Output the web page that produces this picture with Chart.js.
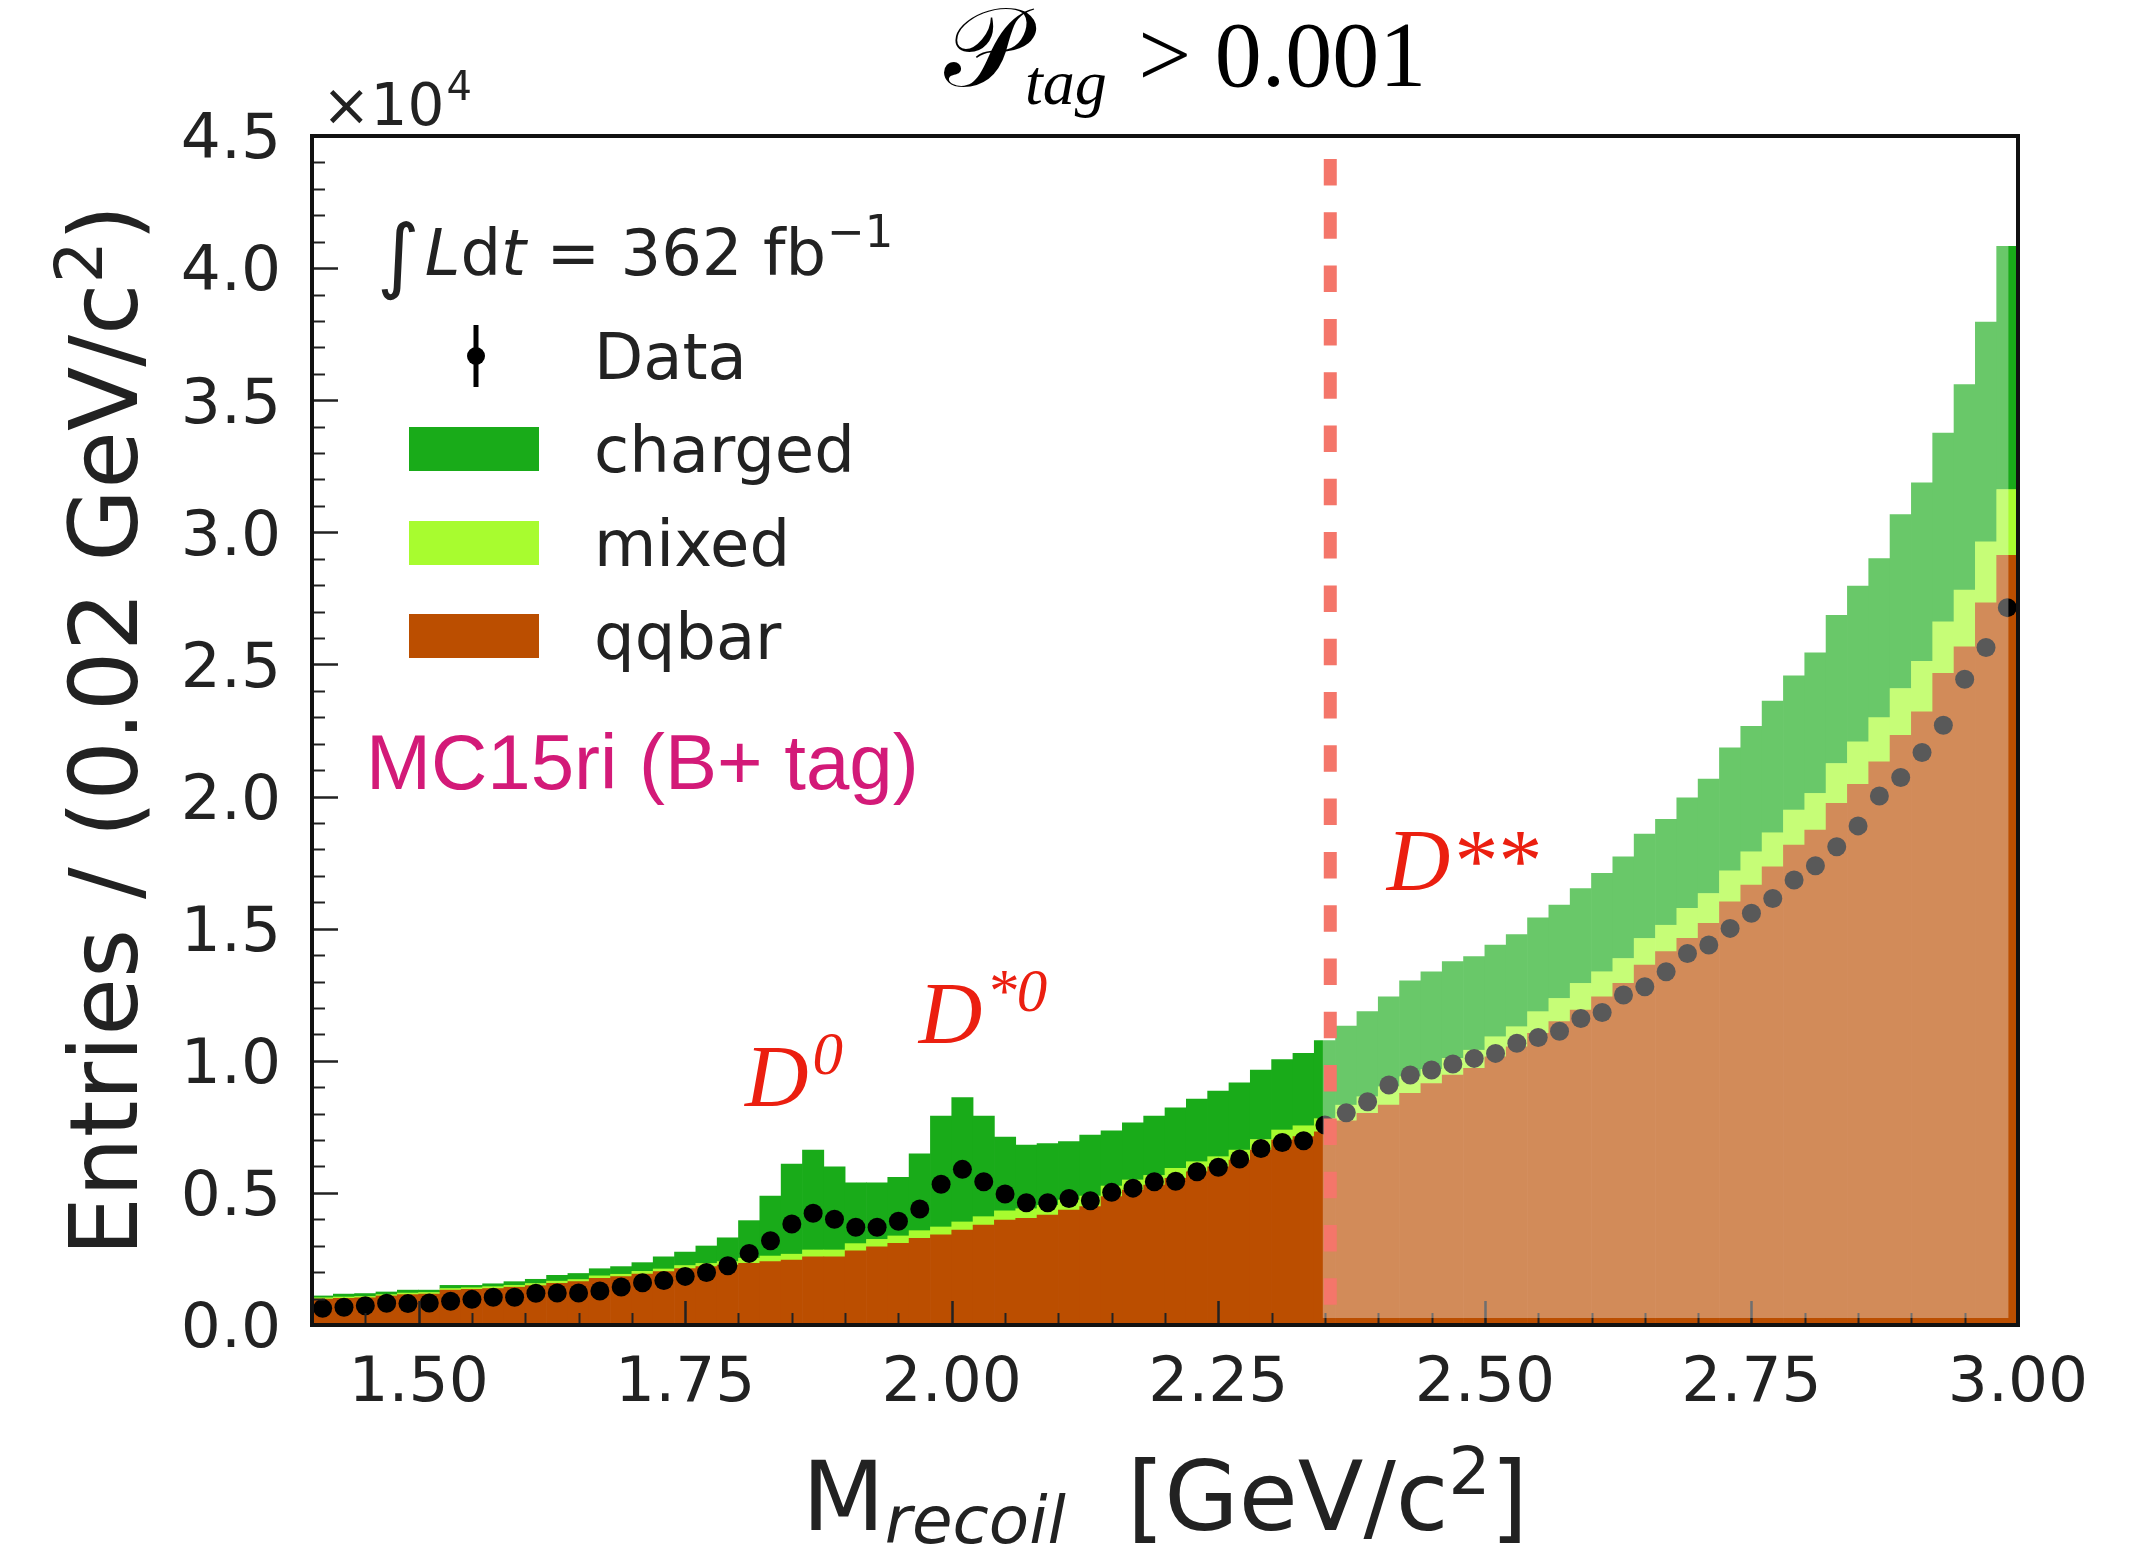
<!DOCTYPE html>
<html lang="en">
<head>
<meta charset="UTF-8">
<title>M_recoil, B+ tag</title>
<script src="https://cdn.jsdelivr.net/npm/chart.js@4.4.1/dist/chart.umd.min.js"></script>
<style>
    html, body { margin: 0; padding: 0; background: #fff; }
    canvas { display: block; }
</style>
</head>
<body>
<canvas id="recoil" width="2152" height="1546"></canvas>
<script>
    // 0.02 GeV/c^2 bins from 1.40 to 3.00, entries in units of 10^4
    var binLow = 1.40;
    var binWidth = 0.02;

    var qqbar = [
        0.098, 0.101, 0.103, 0.110, 0.115, 0.117, 0.132, 0.135, 0.138, 0.143, 0.149, 0.158,
        0.164, 0.177, 0.183, 0.193, 0.202, 0.214, 0.221, 0.227, 0.233, 0.240, 0.246, 0.258,
        0.258, 0.281, 0.296, 0.309, 0.328, 0.341, 0.359, 0.378, 0.397, 0.404, 0.416, 0.435,
        0.448, 0.486, 0.511, 0.530, 0.555, 0.580, 0.599, 0.624, 0.662, 0.700, 0.713, 0.731,
        0.773, 0.801, 0.832, 0.877, 0.914, 0.946, 0.971, 1.015, 1.053, 1.104, 1.148, 1.192,
        1.242, 1.293, 1.362, 1.413, 1.463, 1.520, 1.602, 1.665, 1.734, 1.816, 1.873, 1.974,
        2.046, 2.131, 2.232, 2.321, 2.466, 2.567, 2.733, 2.913
    ];
    var mixed = [
        0.005, 0.005, 0.005, 0.005, 0.006, 0.006, 0.006, 0.006, 0.007, 0.007, 0.008, 0.008,
        0.008, 0.009, 0.009, 0.010, 0.010, 0.011, 0.012, 0.013, 0.020, 0.021, 0.022, 0.026,
        0.026, 0.027, 0.028, 0.028, 0.029, 0.030, 0.031, 0.032, 0.035, 0.036, 0.037, 0.038,
        0.040, 0.040, 0.038, 0.036, 0.038, 0.038, 0.038, 0.038, 0.040, 0.038, 0.041, 0.050,
        0.059, 0.063, 0.070, 0.063, 0.053, 0.063, 0.069, 0.076, 0.076, 0.082, 0.088, 0.101,
        0.095, 0.094, 0.101, 0.100, 0.114, 0.113, 0.117, 0.126, 0.129, 0.133, 0.139, 0.151,
        0.161, 0.168, 0.177, 0.191, 0.195, 0.214, 0.231, 0.249
    ];
    var charged = [
        0.007, 0.011, 0.011, 0.010, 0.011, 0.009, 0.012, 0.009, 0.011, 0.014, 0.016, 0.022,
        0.023, 0.027, 0.029, 0.033, 0.046, 0.051, 0.066, 0.090, 0.142, 0.227, 0.341, 0.378,
        0.315, 0.230, 0.214, 0.222, 0.291, 0.420, 0.471, 0.381, 0.279, 0.241, 0.234, 0.221,
        0.231, 0.209, 0.216, 0.225, 0.229, 0.237, 0.248, 0.255, 0.263, 0.267, 0.274, 0.295,
        0.299, 0.322, 0.340, 0.363, 0.370, 0.366, 0.354, 0.347, 0.349, 0.355, 0.353, 0.359,
        0.372, 0.385, 0.395, 0.401, 0.418, 0.433, 0.465, 0.475, 0.498, 0.508, 0.532, 0.561,
        0.590, 0.602, 0.658, 0.675, 0.715, 0.778, 0.832, 0.920
    ];
    var observed = [
        0.063, 0.067, 0.073, 0.082, 0.081, 0.083, 0.090, 0.097, 0.105, 0.105, 0.120, 0.121,
        0.121, 0.129, 0.144, 0.160, 0.168, 0.184, 0.199, 0.224, 0.271, 0.319, 0.382, 0.423,
        0.400, 0.370, 0.370, 0.393, 0.439, 0.533, 0.589, 0.542, 0.496, 0.463, 0.463, 0.479,
        0.470, 0.502, 0.518, 0.542, 0.544, 0.580, 0.597, 0.628, 0.668, 0.691, 0.697, 0.757,
        0.803, 0.845, 0.908, 0.946, 0.965, 0.988, 1.009, 1.028, 1.066, 1.088, 1.112, 1.160,
        1.183, 1.249, 1.280, 1.337, 1.406, 1.438, 1.501, 1.558, 1.614, 1.684, 1.738, 1.810,
        1.889, 2.002, 2.072, 2.167, 2.270, 2.444, 2.564, 2.715
    ];

    var xTickValues = [1.50, 1.75, 2.00, 2.25, 2.50, 2.75, 3.00];
    var yTickValues = [0.0, 0.5, 1.0, 1.5, 2.0, 2.5, 3.0, 3.5, 4.0, 4.5];

    var cutMass = 2.355;                 // start of the D** window
    var shadeFrom = 2.348, shadeTo = 2.991;

    var peakLabels = [
        {x: 1.806, y: 0.829, base: 'D', sup: '0'},
        {x: 1.969, y: 1.067, base: 'D', sup: '*0'},
        {x: 2.408, y: 1.646, base: 'D**', sup: ''}
    ];

    var centers = observed.map(function (v, i) {
        return +(binLow + (i + 0.5) * binWidth).toFixed(3);
    });
    var toPoints = function (values) {
        return values.map(function (v, i) {
            return {x: centers[i], y: v};
        });
    };

    var INK = '#222222';
    var SANS = '"DejaVu Sans"';

    // draws a row of text pieces (sub/superscripts use dy)
    var drawRuns = function (c, runs, x, y, align) {
        var total = 0;
        runs.forEach(function (r) {
            c.font = r.f;
            r.w = c.measureText(r.t).width + (r.dx || 0);
            total += r.w;
        });
        var px = align === 'center' ? x - total / 2 : x;
        runs.forEach(function (r) {
            c.font = r.f;
            c.fillText(r.t, px + (r.dx || 0), y + (r.dy || 0));
            px += r.w;
        });
    };

    var decorations = {
        id: 'decorations',
        afterDatasetsDraw: function (chart) {
            var c = chart.ctx;
            var a = chart.chartArea;
            var xs = chart.scales.x, ys = chart.scales.y;
            c.save();
            c.textAlign = 'left';
            c.textBaseline = 'alphabetic';

            // inward ticks, bottom and left
            c.strokeStyle = INK;
            for (var k = 0; k <= 32; k++) {
                var xv = 1.40 + k * 0.05;
                var major = Math.abs((xv - 1.5) / 0.25 - Math.round((xv - 1.5) / 0.25)) < 1e-6;
                var px = Math.round(xs.getPixelForValue(xv)) + 0.5;
                c.lineWidth = major ? 2.5 : 2;
                c.beginPath();
                c.moveTo(px, a.bottom);
                c.lineTo(px, a.bottom - (major ? 24 : 12));
                c.stroke();
            }
            for (var j = 0; j <= 45; j++) {
                var yv = j * 0.1;
                var yMajor = j % 5 === 0;
                var py = Math.round(ys.getPixelForValue(yv)) + 0.5;
                c.lineWidth = yMajor ? 2.5 : 2;
                c.beginPath();
                c.moveTo(a.left, py);
                c.lineTo(a.left + (yMajor ? 26 : 13), py);
                c.stroke();
            }

            // pale veil over the D** window
            var sx0 = xs.getPixelForValue(shadeFrom), sx1 = xs.getPixelForValue(shadeTo);
            c.fillStyle = 'rgba(255,255,255,0.35)';
            c.fillRect(sx0, a.top, sx1 - sx0, a.bottom - 7 - a.top);

            // cut line
            var cx = xs.getPixelForValue(cutMass);
            c.strokeStyle = '#f4766a';
            c.lineWidth = 13;
            c.setLineDash([26.5, 26.8]);
            c.beginPath();
            c.moveTo(cx, a.top + 23);
            c.lineTo(cx, a.bottom);
            c.stroke();
            c.setLineDash([]);

            // frame
            c.strokeStyle = '#111';
            c.lineWidth = 4;
            c.strokeRect(a.left, a.top, a.right - a.left, a.bottom - a.top);

            // resonance labels
            c.fillStyle = '#eb1f10';
            peakLabels.forEach(function (p) {
                var runs = [{t: p.base, f: 'italic 88px "Liberation Serif"'}];
                if (p.sup) runs.push({t: p.sup, f: 'italic 61px "Liberation Serif"', dy: -32, dx: 4});
                drawRuns(c, runs, xs.getPixelForValue(p.x), ys.getPixelForValue(p.y), 'left');
            });

            // luminosity and legend
            c.fillStyle = INK;
            drawRuns(c, [
                {t: '\u222B', f: '82px ' + SANS, dy: 8},
                {t: 'L', f: 'italic 64px ' + SANS, dx: 5},
                {t: 'd', f: '64px ' + SANS},
                {t: 't', f: 'italic 64px ' + SANS},
                {t: ' = 362 fb', f: '64px ' + SANS},
                {t: '\u22121', f: '45px ' + SANS, dy: -28, dx: 1}
            ], a.left + 65, a.top + 139, 'left');

            var rowY = [a.top + 220, a.top + 313, a.top + 407, a.top + 500];
            var handleX = a.left + 97, handleW = 130, handleH = 44, textX = a.left + 282;
            var ds = chart.data.datasets;
            // Data entry: marker with error bar
            var mx = handleX + handleW / 2 + 2;
            c.strokeStyle = ds[0].backgroundColor;
            c.lineWidth = 5;
            c.beginPath();
            c.moveTo(mx, rowY[0] - 31);
            c.lineTo(mx, rowY[0] + 31);
            c.stroke();
            c.fillStyle = ds[0].backgroundColor;
            c.beginPath();
            c.arc(mx, rowY[0], 9, 0, Math.PI * 2);
            c.fill();
            var entries = [ds[3], ds[2], ds[1]];
            entries.forEach(function (d, i) {
                c.fillStyle = d.backgroundColor;
                c.fillRect(handleX, rowY[i + 1] - handleH / 2, handleW, handleH);
            });
            c.fillStyle = INK;
            c.font = '64px ' + SANS;
            c.fillText(ds[0].label, textX, rowY[0] + 23);
            entries.forEach(function (d, i) {
                c.fillText(d.label, textX, rowY[i + 1] + 23);
            });

            c.fillStyle = '#d31a78';
            c.font = '78px "Liberation Sans"';
            c.fillText('MC15ri (B+ tag)', a.left + 54, a.top + 653);

            // axis titles and multiplier
            c.fillStyle = INK;
            drawRuns(c, [
                {t: '\u00D710', f: '58px ' + SANS},
                {t: '4', f: '40px ' + SANS, dy: -25, dx: 2}
            ], a.left + 10, a.top - 11, 'left');

            drawRuns(c, [
                {t: 'M', f: '96px ' + SANS},
                {t: 'recoil', f: 'italic 66px ' + SANS, dy: 13},
                {t: '  [GeV/c', f: '96px ' + SANS},
                {t: '2', f: '66px ' + SANS, dy: -36},
                {t: ']', f: '96px ' + SANS}
            ], (a.left + a.right) / 2, 1530, 'center');

            c.save();
            c.translate(137, (a.top + a.bottom) / 2);
            c.rotate(-Math.PI / 2);
            drawRuns(c, [
                {t: 'Entries / (0.02 GeV/c', f: '94px ' + SANS},
                {t: '2', f: '66px ' + SANS, dy: -35},
                {t: ')', f: '94px ' + SANS}
            ], 0, 0, 'center');
            c.restore();

            // selection title
            c.fillStyle = '#000';
            drawRuns(c, [
                {t: '\uD835\uDCAB', f: '112px "DejaVu Serif", "DejaVu Sans", serif'},
                {t: 'tag', f: 'italic 64px "Liberation Serif"', dy: 18, dx: 0},
                {t: ' > 0.001', f: '94px "Liberation Serif"', dx: 8}
            ], 944, 86, 'left');

            c.restore();
        }
    };

    Chart.defaults.font.family = 'DejaVu Sans';
    Chart.defaults.color = INK;

    var ctx = document.getElementById('recoil').getContext('2d');
    var recoilChart = new Chart(ctx, {
        type: 'bar',
        data: {
            datasets: [
                {
                    type: 'scatter',
                    label: 'Data',
                    data: toPoints(observed),
                    backgroundColor: '#000000',
                    borderColor: '#000000',
                    borderWidth: 0,
                    pointRadius: 9.5,
                    stack: 'data',
                    order: 0
                },
                {label: 'qqbar', data: toPoints(qqbar), backgroundColor: '#bb4e00', order: 1},
                {label: 'mixed', data: toPoints(mixed), backgroundColor: '#a8fc2f', order: 1},
                {label: 'charged', data: toPoints(charged), backgroundColor: '#19ab19', order: 1}
            ]
        },
        options: {
            responsive: false,
            animation: false,
            devicePixelRatio: 1,
            layout: {padding: {top: 136, right: 134, left: 0, bottom: 0}},
            datasets: {
                bar: {barPercentage: 1, categoryPercentage: 1, borderWidth: 0}
            },
            plugins: {
                legend: {display: false},
                tooltip: {enabled: false}
            },
            scales: {
                x: {
                    type: 'linear',
                    min: 1.4,
                    max: 3.0,
                    stacked: true,
                    offset: false,
                    grid: {display: false, drawTicks: false},
                    border: {display: false},
                    ticks: {
                        font: {size: 63},
                        padding: 22,
                        maxRotation: 0,
                        callback: function (v) { return v.toFixed(2); }
                    },
                    afterBuildTicks: function (scale) {
                        scale.ticks = xTickValues.map(function (v) { return {value: v}; });
                    },
                    afterFit: function (scale) { scale.height = 221; }
                },
                y: {
                    type: 'linear',
                    min: 0,
                    max: 4.5,
                    stacked: true,
                    grid: {display: false, drawTicks: false},
                    border: {display: false},
                    ticks: {
                        font: {size: 63},
                        padding: 31,
                        labelOffset: 6,
                        callback: function (v) { return v.toFixed(1); }
                    },
                    afterBuildTicks: function (scale) {
                        scale.ticks = yTickValues.map(function (v) { return {value: v}; });
                    },
                    afterFit: function (scale) { scale.width = 312; }
                }
            }
        },
        plugins: [decorations]
    });
</script>
</body>
</html>
